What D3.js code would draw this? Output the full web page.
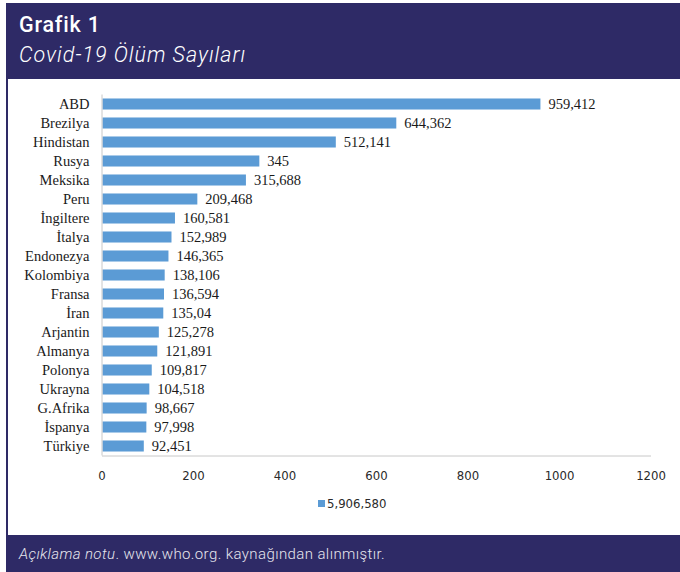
<!DOCTYPE html>
<html>
<head>
<meta charset="utf-8">
<script src="https://cdn.jsdelivr.net/npm/d3@7"></script>
<style>
  html, body { margin: 0; padding: 0; background: #ffffff; }
  svg { display: block; }
</style>
</head>
<body>
<svg id="chart" width="680" height="572"></svg>
<script>
// Countries, top to bottom
const countries = ["ABD", "Brezilya", "Hindistan", "Rusya", "Meksika", "Peru", "İngiltere", "İtalya",
  "Endonezya", "Kolombiya", "Fransa", "İran", "Arjantin", "Almanya", "Polonya", "Ukrayna",
  "G.Afrika", "İspanya", "Türkiye"];
// Deaths in thousands
const deaths = [959.412, 644.362, 512.141, 345, 315.688, 209.468, 160.581, 152.989,
  146.365, 138.106, 136.594, 135.04, 125.278, 121.891, 109.817, 104.518,
  98.667, 97.998, 92.451];
const xTicks = [0, 200, 400, 600, 800, 1000, 1200];
const legendLabel = "5,906,580";
const titleMain = "Grafik 1";
const titleSub = "Covid-19 Ölüm Sayıları";

const navy = "#2e2a66";
const barColor = "#5b9bd5";
const svg = d3.select("#chart");

// Header band
svg.append("rect").attr("x", 7).attr("y", 3).attr("width", 673).attr("height", 76).attr("fill", navy);
svg.append("text").attr("x", 19).attr("y", 32)
  .attr("font-family", "Roboto, 'Open Sans', sans-serif").attr("font-weight", 500)
  .attr("font-size", 21.5).attr("letter-spacing", 0.8).attr("fill", "#ffffff").text(titleMain);
svg.append("text").attr("x", 19).attr("y", 62)
  .attr("font-family", "Roboto, 'Open Sans', sans-serif").attr("font-weight", 300)
  .attr("font-style", "italic").attr("font-size", 21.5).attr("letter-spacing", 1)
  .attr("fill", "#ffffff").text(titleSub);

// Left frame line
svg.append("rect").attr("x", 6).attr("y", 3).attr("width", 2).attr("height", 569).attr("fill", navy);

// Footer band
svg.append("rect").attr("x", 7).attr("y", 535).attr("width", 673).attr("height", 37).attr("fill", navy);
const foot = svg.append("text").attr("x", 19).attr("y", 559)
  .attr("font-family", "Roboto, 'Open Sans', sans-serif").attr("font-weight", 300)
  .attr("font-size", 15).attr("letter-spacing", 0.4).attr("fill", "#e6e6ee");
foot.append("tspan").attr("font-style", "italic").text("Açıklama notu");
foot.append("tspan").text(". www.who.org. kaynağından alınmıştır.");

// Scales
const x = d3.scaleLinear().domain([0, 1200]).range([101.5, 650.5]);
const y = d3.scaleBand().domain(countries).range([94.5, 455.5]).paddingInner(0.42).paddingOuter(0.21);

const data = countries.map((c, i) => ({ c, v: deaths[i] }));

// Bars
svg.append("g").selectAll("rect").data(data).join("rect")
  .attr("x", x(0) + 1)
  .attr("y", d => y(d.c))
  .attr("width", d => x(d.v) - x(0) - 1)
  .attr("height", y.bandwidth())
  .attr("fill", barColor);

// Value labels (comma decimal)
const fmt = v => String(v).replace(".", ",");
svg.append("g").selectAll("text").data(data).join("text")
  .attr("x", d => x(d.v) + 8)
  .attr("y", d => y(d.c) + y.bandwidth() / 2)
  .attr("dy", "0.35em")
  .attr("font-family", "'Liberation Serif', 'Times New Roman', serif")
  .attr("font-size", 14.5).attr("fill", "#1a1a1a")
  .text(d => fmt(d.v));

// Y axis (category labels)
const yAxis = d3.axisLeft(y).tickSize(0).tickPadding(12);
const gy = svg.append("g").attr("transform", `translate(${x(0)},0)`).call(yAxis);
gy.select(".domain").attr("stroke", "#c8c8c8").attr("d", `M0.5,94.5V455.5`);
gy.selectAll("text").attr("font-family", "'Liberation Serif', 'Times New Roman', serif")
  .attr("font-size", 14.5).attr("fill", "#1a1a1a");

// X axis
const xAxis = d3.axisBottom(x).tickValues(xTicks).tickSize(0).tickPadding(15).tickFormat(d3.format("d"));
const gx = svg.append("g").attr("transform", "translate(0,455.5)").call(xAxis);
gx.select(".domain").attr("stroke", "#c8c8c8");
gx.selectAll("text").attr("font-family", "'Liberation Sans Narrow', 'DejaVu Sans Condensed', sans-serif")
  .attr("font-size", 13).attr("fill", "#2a2a2a");

// Legend
const lg = svg.append("g").attr("transform", "translate(318,499)");
lg.append("rect").attr("width", 7).attr("height", 7).attr("y", 1).attr("fill", barColor);
lg.append("text").attr("x", 9).attr("y", 8.5)
  .attr("font-family", "'Liberation Sans Narrow', 'DejaVu Sans Condensed', sans-serif")
  .attr("font-size", 13).attr("fill", "#2a2a2a").text(legendLabel);
</script>
</body>
</html>
